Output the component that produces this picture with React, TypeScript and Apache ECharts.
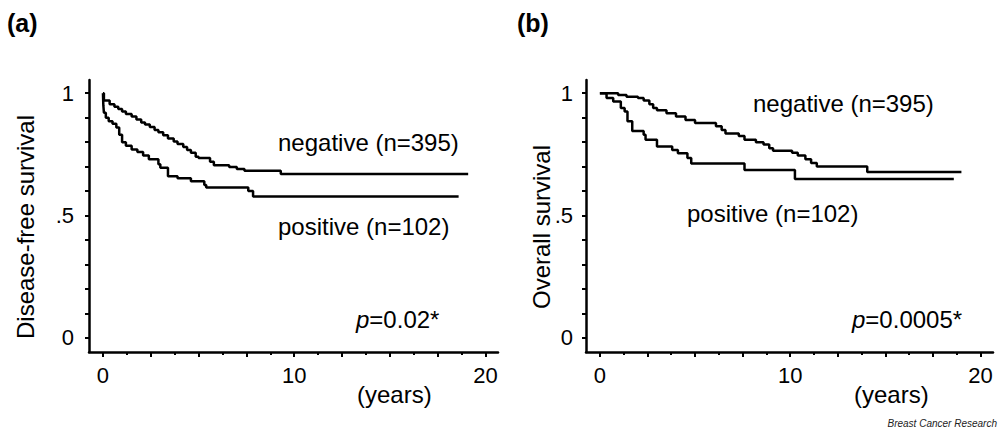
import React, { useEffect, useRef } from "react";
import * as echarts from "echarts";

// Panel (a): disease-free survival (Kaplan-Meier steps: time of drop, new value)
const A_NEG_T = [0, 0.05, 0.35, 0.6, 0.8, 1.0, 1.2, 1.5, 1.75, 2.0, 2.2, 2.45, 2.7, 2.9, 3.15, 3.4, 3.7, 3.9, 4.2, 4.4, 4.6, 4.85, 5.0, 5.6, 5.8, 6.6, 7.0, 7.4, 9.3, 19.1];
const A_NEG_S = [1.0, 0.97, 0.955, 0.945, 0.935, 0.925, 0.915, 0.905, 0.893, 0.88, 0.872, 0.862, 0.85, 0.84, 0.828, 0.815, 0.803, 0.792, 0.78, 0.768, 0.757, 0.74, 0.735, 0.72, 0.705, 0.698, 0.69, 0.683, 0.67, 0.67];
const A_POS_T = [0, 0.02, 0.05, 0.15, 0.3, 0.5, 0.7, 0.85, 1.0, 1.2, 1.5, 1.8, 2.1, 2.4, 2.9, 3.0, 3.4, 3.9, 4.6, 5.3, 5.4, 7.6, 7.85, 18.6];
const A_POS_S = [1.0, 0.95, 0.92, 0.9, 0.885, 0.875, 0.86, 0.83, 0.8, 0.785, 0.77, 0.76, 0.745, 0.73, 0.71, 0.695, 0.66, 0.652, 0.64, 0.625, 0.615, 0.6, 0.578, 0.578];

// Panel (b): overall survival
const B_NEG_T = [0, 0.96, 1.4, 2.0, 2.3, 2.6, 2.8, 3.0, 3.5, 4.0, 4.5, 5.0, 6.1, 6.4, 6.6, 7.3, 7.6, 8.2, 8.6, 8.9, 9.1, 10.1, 10.4, 10.8, 11.1, 11.4, 14.05, 19.0];
const B_NEG_S = [1.0, 0.993, 0.986, 0.98, 0.97, 0.955, 0.94, 0.93, 0.918, 0.905, 0.89, 0.878, 0.865, 0.85, 0.835, 0.825, 0.81, 0.8, 0.79, 0.775, 0.765, 0.757, 0.745, 0.73, 0.715, 0.7, 0.678, 0.678];
const B_POS_T = [0, 0.35, 0.7, 1.1, 1.3, 1.45, 1.7, 2.3, 2.4, 3.0, 3.8, 4.1, 4.6, 4.8, 7.6, 10.25, 18.6];
const B_POS_S = [1.0, 0.98, 0.966, 0.94, 0.925, 0.885, 0.845, 0.83, 0.81, 0.782, 0.768, 0.755, 0.735, 0.713, 0.686, 0.649, 0.649];

const X_LABELS = [0, 10, 20];
const X_MAJOR_TICKS = [0, 2.5, 5, 7.5, 10, 12.5, 15, 17.5, 20];
const X_MINOR_TICKS = [1.25, 3.75, 6.25, 8.75, 11.25, 13.75, 16.25, 18.75];
const Y_LABELS = [0, 0.5, 1];
const Y_TICKS = [0, 0.1, 0.2, 0.3, 0.4, 0.5, 0.6, 0.7, 0.8, 0.9, 1.0];

const FONT = "Liberation Sans, Arial, Helvetica, sans-serif";

const zip = (t: number[], s: number[]) => t.map((v, i) => [v, s[i]]);

export default function App() {
  const ref = useRef<HTMLDivElement>(null);
  useEffect(() => {
    if (!ref.current) return;
    const chart = echarts.init(ref.current, undefined, { renderer: "svg" });
    const xMin = -0.73;
    const xMax = 20.66;
    const yMin = -0.058;
    const yMax = 1.054;
    const mainX = (gridIndex: number) => ({
      type: "value",
      gridIndex,
      position: "bottom",
      min: xMin,
      max: xMax,
      splitLine: { show: false },
      axisLine: { show: true, onZero: false, lineStyle: { color: "#000", width: 2.5 } },
      axisTick: { show: true, customValues: X_MAJOR_TICKS, length: 5, lineStyle: { color: "#000", width: 2 } },
      axisLabel: {
        customValues: X_LABELS,
        margin: 12,
        color: "#000",
        fontSize: 22,
        fontFamily: FONT,
        formatter: (v: number) => String(v),
      },
    });
    const minorX = (gridIndex: number) => ({
      type: "value",
      gridIndex,
      position: "bottom",
      min: xMin,
      max: xMax,
      splitLine: { show: false },
      axisLine: { show: false, onZero: false },
      axisTick: { show: true, customValues: X_MINOR_TICKS, length: 3, lineStyle: { color: "#000", width: 2 } },
      axisLabel: { show: false },
    });
    const yAx = (gridIndex: number, margin: number) => ({
      type: "value",
      gridIndex,
      min: yMin,
      max: yMax,
      splitLine: { show: false },
      axisLine: { show: true, onZero: false, lineStyle: { color: "#000", width: 2.5 } },
      axisTick: { show: true, customValues: Y_TICKS, length: 4, lineStyle: { color: "#000", width: 2 } },
      axisLabel: {
        customValues: Y_LABELS,
        margin,
        color: "#000",
        fontSize: 22,
        fontFamily: FONT,
        formatter: (v: number) => (v === 0 ? "0" : v === 1 ? "1" : ".5"),
      },
    });
    const line = (xAxisIndex: number, yAxisIndex: number, data: number[][]) => ({
      type: "line",
      xAxisIndex,
      yAxisIndex,
      step: "end",
      data,
      showSymbol: false,
      symbol: "none",
      lineStyle: { color: "#000", width: 2.5 },
      silent: true,
    });
    const txt = (x: number, y: number, text: string, extra: any = {}) => ({
      type: "text",
      x,
      y,
      silent: true,
      style: {
        text,
        fill: "#000",
        font: `24px ${FONT}`,
        textAlign: "left",
        textVerticalAlign: "middle",
        ...extra,
      },
    });
    chart.setOption({
      animation: false,
      backgroundColor: "#fff",
      grid: [
        { left: 89, right: 502, top: 80, bottom: 77, containLabel: false },
        { left: 586, right: 7, top: 80, bottom: 77, containLabel: false },
      ],
      xAxis: [mainX(0), minorX(0), mainX(1), minorX(1)],
      yAxis: [yAx(0, 15), yAx(1, 13)],
      series: [
        line(0, 0, zip(A_NEG_T, A_NEG_S)),
        line(0, 0, zip(A_POS_T, A_POS_S)),
        line(2, 1, zip(B_NEG_T, B_NEG_S)),
        line(2, 1, zip(B_POS_T, B_POS_S)),
      ],
      graphic: [
        txt(7, 23, "(a)", { font: `bold 25px ${FONT}` }),
        txt(517, 23, "(b)", { font: `bold 25px ${FONT}` }),
        {
          type: "text",
          x: 25.7,
          y: 227,
          rotation: Math.PI / 2,
          silent: true,
          style: { text: "Disease-free survival", fill: "#000", font: `24px ${FONT}`, textAlign: "center", textVerticalAlign: "middle" },
        },
        {
          type: "text",
          x: 541.7,
          y: 227,
          rotation: Math.PI / 2,
          silent: true,
          style: { text: "Overall survival", fill: "#000", font: `24px ${FONT}`, textAlign: "center", textVerticalAlign: "middle" },
        },
        txt(278, 142.7, "negative (n=395)"),
        txt(278, 226.7, "positive (n=102)"),
        {
          type: "text",
          x: 356,
          y: 319.7,
          silent: true,
          style: {
            text: "{i|p}=0.02*",
            fill: "#000",
            font: `24px ${FONT}`,
            textAlign: "left",
            textVerticalAlign: "middle",
            rich: { i: { fontStyle: "italic", fontSize: 24, fontFamily: FONT, fill: "#000" } },
          },
        },
        txt(357, 394.7, "(years)"),
        txt(753, 103.7, "negative (n=395)"),
        txt(687, 213.7, "positive (n=102)"),
        {
          type: "text",
          x: 852,
          y: 319.7,
          silent: true,
          style: {
            text: "{i|p}=0.0005*",
            fill: "#000",
            font: `24px ${FONT}`,
            textAlign: "left",
            textVerticalAlign: "middle",
            rich: { i: { fontStyle: "italic", fontSize: 24, fontFamily: FONT, fill: "#000" } },
          },
        },
        txt(854, 394.7, "(years)"),
        txt(997, 423, "Breast Cancer Research", { font: `italic 10px ${FONT}`, textAlign: "right", fill: "#222" }),
      ],
    });
    return () => chart.dispose();
  }, []);
  return (
    <div
      ref={ref}
      style={{ position: "fixed", left: 0, top: 0, width: 1000, height: 429, background: "#fff" }}
    />
  );
}
